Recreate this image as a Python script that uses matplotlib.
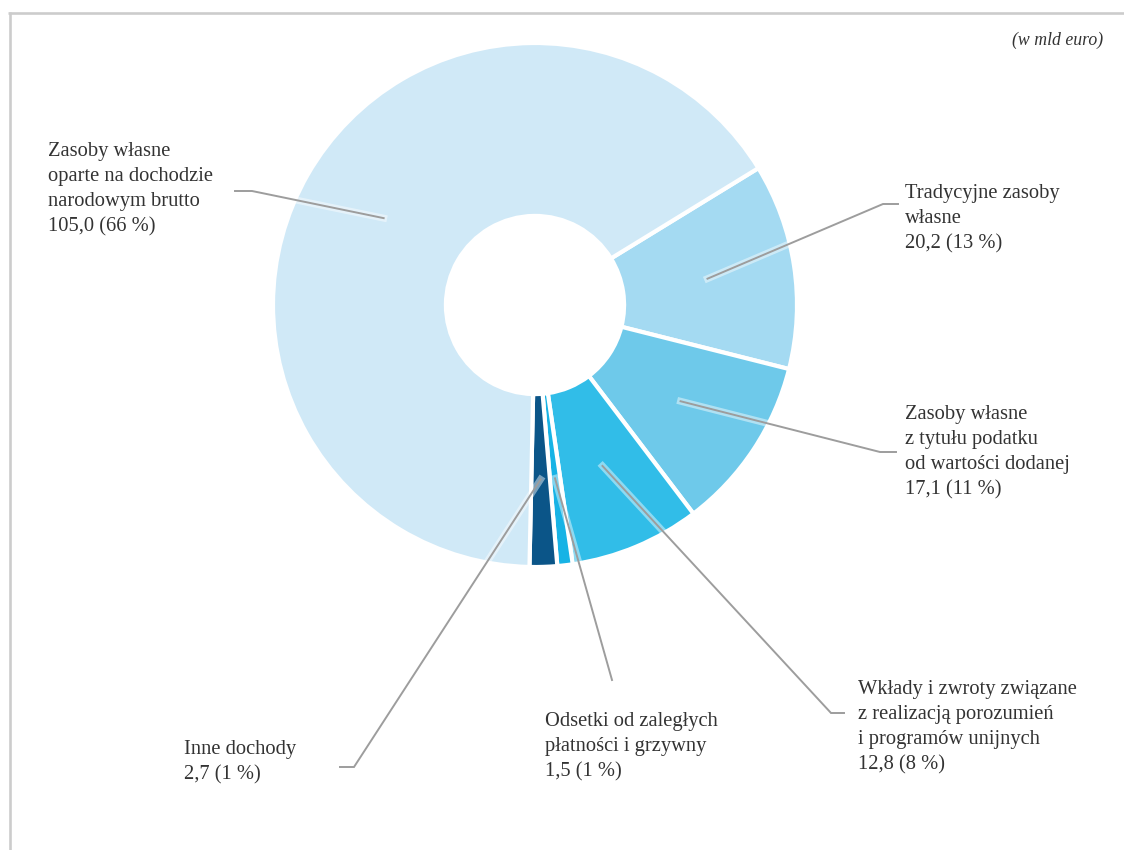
import numpy as np
import matplotlib
matplotlib.use("Agg")
import matplotlib.pyplot as plt
import matplotlib.patheffects as pe

# Budget revenue by source (billion EUR)
labels = [
    "Tradycyjne zasoby\nwłasne",
    "Zasoby własne\nz tytułu podatku\nod wartości dodanej",
    "Wkłady i zwroty związane\nz realizacją porozumień\ni programów unijnych",
    "Odsetki od zaległych\npłatności i grzywny",
    "Inne dochody",
    "Zasoby własne\noparte na dochodzie\nnarodowym brutto",
]
values = [20.2, 17.1, 12.8, 1.5, 2.7, 105.0]
shares = ["13 %", "11 %", "8 %", "1 %", "1 %", "66 %"]
colors = ["#a4daf2", "#6ec9ea", "#31bde8", "#17b3e5", "#0b5588", "#d0e9f7"]

W, H = 1124, 850
fig = plt.figure(figsize=(W / 100, H / 100), dpi=100)
fig.patch.set_facecolor("white")

# donut axes: centre (535, 305) px, radius 262 px
cx, cy, R = 535, 305, 262
ax = fig.add_axes([(cx - R) / W, (H - cy - R) / H, 2 * R / W, 2 * R / H])
wedges, _ = ax.pie(values, colors=colors, startangle=31.5, counterclock=False,
                   radius=1.0,
                   wedgeprops=dict(width=0.66, edgecolor="white", linewidth=3.0))
ax.set_xlim(-1, 1)
ax.set_ylim(-1, 1)
ax.set_aspect("equal")
ax.axis("off")

# overlay in pixel coordinates for labels and leader lines
ov = fig.add_axes([0, 0, 1, 1], zorder=5)
ov.set_xlim(0, W)
ov.set_ylim(H, 0)
ov.axis("off")
ov.patch.set_alpha(0)

# frame lines
ov.plot([8, W], [13, 13], color="#cccccc", lw=1.9, solid_capstyle="butt")
ov.plot([9.5, 9.5], [12, H], color="#cccccc", lw=1.9, solid_capstyle="butt")

font = dict(family="Liberation Serif", color="#333333", fontsize=14.8,
            linespacing=1.43)

ov.text(1103, 40, "(w mld euro)", ha="right", va="center",
        family="Liberation Serif", style="italic", fontsize=12.8,
        color="#333333")

# label anchors (text top-left), elbow point and end of horizontal tick
layout = [
    dict(text=(905, 184), elbow=(883, 204), tick=(898, 204)),
    dict(text=(905, 405), elbow=(880, 452), tick=(896, 452)),
    dict(text=(858, 680), elbow=(831, 713), tick=(844, 713)),
    dict(text=(545, 712), elbow=(612, 680), tick=None),
    dict(text=(184, 740), elbow=(354, 767), tick=(340, 767)),
    dict(text=(48, 142), elbow=(252, 191), tick=(235, 191)),
]

halo = [pe.withStroke(linewidth=5, foreground="white", alpha=0.45)]
to_ov = ov.transData.inverted()
for w, v, s, lab, lay in zip(wedges, values, shares, labels, layout):
    mid = np.deg2rad((w.theta1 + w.theta2) / 2)
    start_disp = ax.transData.transform((0.666 * np.cos(mid), 0.666 * np.sin(mid)))
    sx, sy = to_ov.transform(start_disp)
    ex, ey = lay["elbow"]
    xs, ys = [sx, ex], [sy, ey]
    if lay["tick"] is not None:
        xs.append(lay["tick"][0])
        ys.append(lay["tick"][1])
    ov.plot(xs, ys, color="#9d9d9d", lw=1.4, path_effects=halo,
            solid_joinstyle="miter")
    value_txt = f"{v:.1f}".replace(".", ",") + f" ({s})"
    ov.text(lay["text"][0], lay["text"][1], lab + "\n" + value_txt,
            ha="left", va="top", **font)

fig.savefig("out.png", dpi=100, facecolor="white")
